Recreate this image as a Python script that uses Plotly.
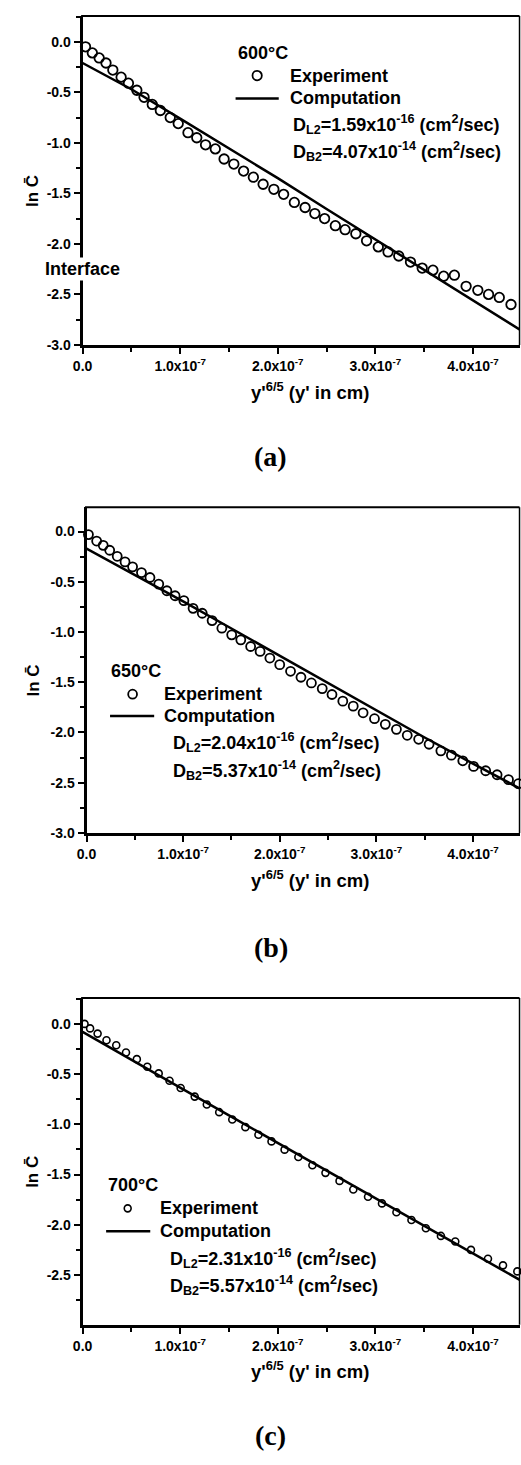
import plotly.graph_objects as go

W, H = 521, 1465
XU = 1e-7  # x values below are given in units of 1e-7

# ---------------- 600 °C ----------------
exp_x_600 = [0.03, 0.10, 0.17, 0.24, 0.31, 0.395, 0.47, 0.556, 0.63, 0.714, 0.797, 0.898,
             0.98, 1.08, 1.17, 1.26, 1.36, 1.45, 1.55, 1.65, 1.75, 1.85, 1.96, 2.06,
             2.17, 2.28, 2.38, 2.48, 2.59, 2.69, 2.80, 2.91, 3.03, 3.13, 3.24, 3.36,
             3.48, 3.59, 3.70, 3.81, 3.93, 4.05, 4.16, 4.27, 4.39]
exp_y_600 = [-0.05, -0.11, -0.16, -0.21, -0.28, -0.35, -0.41, -0.48, -0.55, -0.62, -0.68, -0.75,
             -0.81, -0.90, -0.95, -1.02, -1.06, -1.16, -1.21, -1.28, -1.34, -1.41, -1.46, -1.51,
             -1.59, -1.64, -1.70, -1.75, -1.82, -1.86, -1.90, -1.97, -2.03, -2.08, -2.12, -2.18,
             -2.24, -2.26, -2.32, -2.31, -2.42, -2.46, -2.50, -2.53, -2.60]
comp_x_600 = [0.0, 0.5, 1.0, 1.5, 2.0, 2.5, 3.0, 3.5, 4.0, 4.5]
comp_y_600 = [-0.21, -0.47, -0.76, -1.055, -1.35, -1.655, -1.955, -2.26, -2.56, -2.86]

# ---------------- 650 °C ----------------
exp_x_650 = [0.02, 0.105, 0.173, 0.24, 0.318, 0.399, 0.477, 0.569, 0.657, 0.748, 0.832, 0.917,
             1.008, 1.103, 1.198, 1.30, 1.401, 1.503, 1.597, 1.699, 1.797, 1.898, 2.0, 2.112,
             2.22, 2.328, 2.44, 2.541, 2.653, 2.761, 2.863, 2.981, 3.093, 3.208, 3.32, 3.438,
             3.546, 3.668, 3.777, 3.895, 4.007, 4.132, 4.25, 4.368, 4.47]
exp_y_650 = [-0.03, -0.094, -0.137, -0.186, -0.246, -0.302, -0.351, -0.408, -0.457, -0.523, -0.589, -0.639,
             -0.688, -0.764, -0.813, -0.886, -0.962, -1.028, -1.078, -1.144, -1.193, -1.259, -1.325, -1.391,
             -1.45, -1.507, -1.563, -1.622, -1.688, -1.738, -1.804, -1.863, -1.919, -1.969, -2.028, -2.068,
             -2.117, -2.183, -2.226, -2.282, -2.338, -2.381, -2.421, -2.47, -2.51]
comp_x_650 = [0.0, 0.5, 1.0, 1.5, 2.0, 2.5, 3.0, 3.5, 4.0, 4.5]
comp_y_650 = [-0.17, -0.43, -0.695, -0.965, -1.235, -1.51, -1.78, -2.05, -2.31, -2.565]

# ---------------- 700 °C ----------------
exp_x_700 = [0.02, 0.077, 0.154, 0.245, 0.345, 0.445, 0.556, 0.663, 0.78, 0.891, 1.005, 1.149,
             1.273, 1.40, 1.534, 1.668, 1.802, 1.936, 2.07, 2.211, 2.355, 2.489, 2.633, 2.774,
             2.925, 3.068, 3.216, 3.37, 3.518, 3.672, 3.819, 3.98, 4.154, 4.308, 4.455]
exp_y_700 = [0.0, -0.045, -0.097, -0.163, -0.213, -0.285, -0.351, -0.427, -0.493, -0.566, -0.639, -0.724,
             -0.803, -0.879, -0.952, -1.028, -1.104, -1.170, -1.252, -1.325, -1.408, -1.483, -1.563, -1.649,
             -1.721, -1.787, -1.876, -1.952, -2.035, -2.111, -2.167, -2.25, -2.338, -2.404, -2.464]
comp_x_700 = [0.0, 0.5, 1.0, 1.5, 2.0, 2.5, 3.0, 3.5, 4.0, 4.5]
comp_y_700 = [-0.08, -0.36, -0.635, -0.91, -1.185, -1.46, -1.735, -2.01, -2.285, -2.56]

x_tick_vals = [0, 1, 2, 3, 4]
x_tick_text = ["0.0", "1.0x10<sup>-7</sup>", "2.0x10<sup>-7</sup>",
               "3.0x10<sup>-7</sup>", "4.0x10<sup>-7</sup>"]
y_tick_vals = [0.0, -0.5, -1.0, -1.5, -2.0, -2.5, -3.0]
y_tick_text = ["0.0", "-0.5", "-1.0", "-1.5", "-2.0", "-2.5", "-3.0"]

FONT = "Arial, 'Liberation Sans', sans-serif"
SERIF = "'Times New Roman', 'Liberation Serif', serif"


def fx(px):
    return px / W


def fy(py):
    return 1 - py / H


def bold(s):
    return f"<b>{s}</b>"


panels = [
    dict(temp="600°C", ex=exp_x_600, ey=exp_y_600, cx=comp_x_600, cy=comp_y_600,
         dl="1.59", db="4.07", left=74, right=519.5, top=16, bottom=347, y0px=42,
         ypx=101.6, xpx=99.5, msize=9.5, mline=1.8, tag="(a)", tagy=459,
         leg=dict(t=(232, 53), circ=(252, 76), txt=285, line=(230, 274, 99), d=289, dy=(125, 152))),
    dict(temp="650°C", ex=exp_x_650, ey=exp_y_650, cx=comp_x_650, cy=comp_y_650,
         dl="2.04", db="5.37", left=78, right=519.5, top=510, bottom=837.5, y0px=534.5,
         ypx=101, xpx=98.5, msize=9, mline=1.8, tag="(b)", tagy=953,
         leg=dict(t=(103, 675), circ=(125, 698), txt=157, line=(102, 147, 720), d=166, dy=(747, 775))),
    dict(temp="700°C", ex=exp_x_700, ey=exp_y_700, cx=comp_x_700, cy=comp_y_700,
         dl="2.31", db="5.57", left=74, right=519.5, top=1003.5, bottom=1332, y0px=1029.5,
         ypx=101, xpx=99.5, msize=7, mline=1.6, tag="(c)", tagy=1443,
         leg=dict(t=(100, 1192), circ=(120, 1215), txt=153, line=(98, 143, 1238), d=163, dy=(1265, 1293))),
]

fig = go.Figure()
annotations = []
shapes = []
layout_axes = {}

tick_font = dict(family=FONT, size=14, color="black")
label_font = dict(family=FONT, size=18, color="black")
PAD = 2  # annotation box padding, in px


def text_at(text, px, py, font, **kw):
    return dict(text=bold(text), xref="paper", yref="paper", x=fx(px - PAD), y=fy(py),
                showarrow=False, xanchor="left", yanchor="middle", font=font, **kw)


for i, p in enumerate(panels, start=1):
    xa = "x" if i == 1 else f"x{i}"
    ya = "y" if i == 1 else f"y{i}"
    xkey = "xaxis" if i == 1 else f"xaxis{i}"
    ykey = "yaxis" if i == 1 else f"yaxis{i}"

    # experimental points
    fig.add_trace(go.Scatter(
        x=[v * XU for v in p["ex"]], y=p["ey"], mode="markers", xaxis=xa, yaxis=ya,
        marker=dict(symbol="circle-open", size=p["msize"], color="black",
                    line=dict(width=p["mline"], color="black")),
        showlegend=False, cliponaxis=False))
    # computed profile
    fig.add_trace(go.Scatter(
        x=[v * XU for v in p["cx"]], y=p["cy"], mode="lines", xaxis=xa, yaxis=ya,
        line=dict(color="black", width=2.5), showlegend=False))

    xmax = (p["right"] - p["left"]) / p["xpx"]
    ymax = (p["y0px"] - p["top"]) / p["ypx"]
    ybot = -(p["bottom"] - p["y0px"]) / p["ypx"]

    layout_axes[xkey] = dict(
        domain=[fx(p["left"]), fx(p["right"])], anchor=ya,
        range=[0, xmax * XU], showgrid=False, zeroline=False,
        showline=True, linecolor="black", linewidth=3,
        ticks="outside", ticklen=6, tickwidth=2, tickcolor="black",
        tickvals=[v * XU for v in x_tick_vals], ticktext=[bold(t) for t in x_tick_text],
        tickfont=tick_font,
        minor=dict(ticks="outside", ticklen=4, tickwidth=2, tickcolor="black",
                   tickvals=[v * XU for v in [0.5, 1.5, 2.5, 3.5]]),
    )
    layout_axes[ykey] = dict(
        domain=[fy(p["bottom"]), fy(p["top"])], anchor=xa,
        range=[ybot, ymax], showgrid=False, zeroline=False,
        showline=True, linecolor="black", linewidth=3,
        ticks="outside", ticklen=6, tickwidth=2, tickcolor="black",
        tickvals=y_tick_vals, ticktext=[bold(t) for t in y_tick_text],
        tickfont=tick_font,
        minor=dict(ticks="outside", ticklen=4, tickwidth=2, tickcolor="black",
                   tickvals=[-0.25, -0.75, -1.25, -1.75, -2.25, -2.75, 0.25]),
    )

    # top and right frame lines
    shapes.append(dict(type="line", xref="paper", yref="paper",
                       x0=fx(p["left"] - 1.5), x1=fx(p["right"]), y0=fy(p["top"]), y1=fy(p["top"]),
                       line=dict(color="black", width=2)))
    shapes.append(dict(type="line", xref="paper", yref="paper",
                       x0=fx(p["right"]), x1=fx(p["right"]), y0=fy(p["top"]), y1=fy(p["bottom"]),
                       line=dict(color="black", width=1.5)))

    # axis titles
    annotations.append(dict(
        text=bold("ln C\u0304"), xref="paper", yref="paper", x=fx(23),
        y=fy((p["top"] + p["bottom"]) / 2 + 11),
        textangle=-90, showarrow=False, xanchor="center", yanchor="middle",
        font=dict(family=FONT, size=17, color="black")))
    annotations.append(dict(
        text=bold("y'<sup>6/5</sup> (y' in cm)"), xref="paper", yref="paper",
        x=fx(306), y=fy(p["bottom"] + 46), showarrow=False, xanchor="center", yanchor="middle",
        font=dict(family=FONT, size=18.5, color="black")))
    annotations.append(dict(
        text=bold(p["tag"]), xref="paper", yref="paper", x=fx(266), y=fy(p["tagy"]),
        showarrow=False, xanchor="center", yanchor="middle",
        font=dict(family=SERIF, size=28, color="black")))

    # legend block
    lg = p["leg"]
    annotations.append(text_at(p["temp"], lg["t"][0], lg["t"][1], label_font))
    annotations.append(text_at("Experiment", lg["txt"], lg["circ"][1], label_font))
    annotations.append(text_at("Computation", lg["txt"], lg["line"][2], label_font))
    annotations.append(text_at(f"D<sub>L2</sub>={p['dl']}x10<sup>-16</sup> (cm<sup>2</sup>/sec)",
                               lg["d"], lg["dy"][0], label_font))
    annotations.append(text_at(f"D<sub>B2</sub>={p['db']}x10<sup>-14</sup> (cm<sup>2</sup>/sec)",
                               lg["d"], lg["dy"][1], label_font))
    r = p["msize"] / 2
    cx, cy = lg["circ"]
    shapes.append(dict(type="circle", xref="paper", yref="paper",
                       x0=fx(cx - r), x1=fx(cx + r), y0=fy(cy + r), y1=fy(cy - r),
                       line=dict(color="black", width=p["mline"])))
    lx0, lx1, ly = lg["line"]
    shapes.append(dict(type="line", xref="paper", yref="paper",
                       x0=fx(lx0), x1=fx(lx1), y0=fy(ly), y1=fy(ly),
                       line=dict(color="black", width=2.5)))

# interface marker on the first panel's depth axis
annotations.append(text_at("Interface", 36, 270, label_font, bgcolor="white", borderpad=1))

fig.update_layout(
    width=W, height=H, margin=dict(l=0, r=0, t=0, b=0),
    paper_bgcolor="white", plot_bgcolor="white",
    showlegend=False, annotations=annotations, shapes=shapes, **layout_axes)

fig.write_html("out.html")
